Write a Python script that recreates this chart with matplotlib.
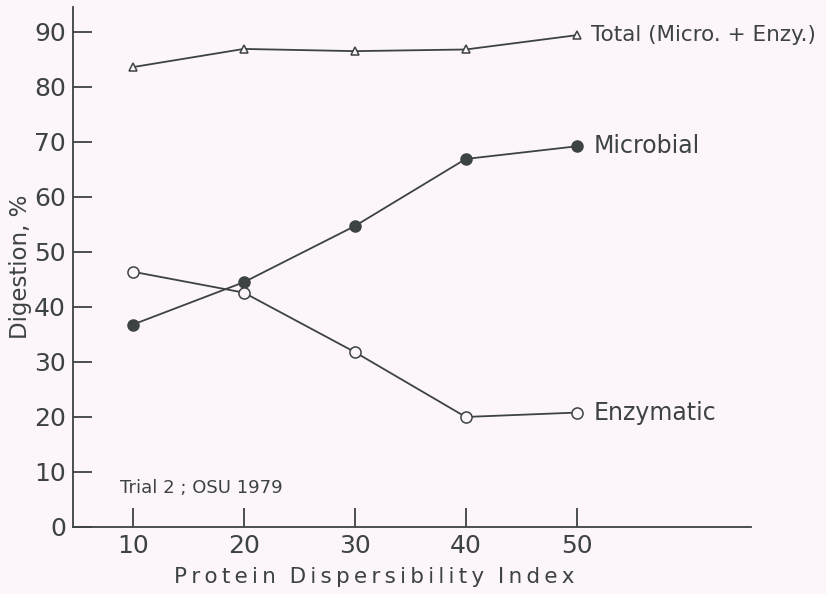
import matplotlib
matplotlib.use('Agg')
import matplotlib.pyplot as plt

# values
pdi = [10, 20, 30, 40, 50]
total = [83.6, 86.9, 86.5, 86.8, 89.4]
microbial = [36.8, 44.5, 54.7, 66.9, 69.2]
enzymatic = [46.4, 42.6, 31.8, 20.0, 20.8]

ink = '#3d4245'
bg = '#fcf5fa'

plt.rcParams['font.family'] = ['DejaVu Sans']

fig = plt.figure(figsize=(8.26, 5.94), dpi=100)
fig.patch.set_facecolor(bg)
ax = fig.add_axes([0.0884, 0.1128, 0.8206, 0.8752])
ax.set_facecolor(bg)

ax.plot(pdi, total, color=ink, lw=1.3, marker='^', ms=6, mfc=bg, mec=ink, mew=1.1)
ax.plot(pdi, microbial, color=ink, lw=1.3, marker='o', ms=8, mfc=ink, mec=ink)
ax.plot(pdi, enzymatic, color=ink, lw=1.3, marker='o', ms=8, mfc=bg, mec=ink, mew=1.1)

ax.set_xlim(4.6, 65.7)
ax.set_ylim(0, 94.5)
ax.set_xticks(pdi)
ax.set_yticks(range(0, 91, 10))
ax.tick_params(direction='in', length=14, width=1.3, colors=ink, labelsize=18, pad=5)
for s in ['top', 'right']:
    ax.spines[s].set_visible(False)
for s in ['left', 'bottom']:
    ax.spines[s].set_color(ink)
    ax.spines[s].set_linewidth(1.3)

ax.set_ylabel('Digestion, %', fontsize=16.5, color=ink)
ax.yaxis.set_label_coords(-0.078, 0.5)
ax.yaxis.label.set_va('center')
sp = '\u2009'
ax.set_xlabel(sp.join('Protein') + '  ' + sp.join('Dispersibility') + '  ' + sp.join('Index'),
              fontsize=15.5, color=ink)
ax.xaxis.set_label_coords(0.445, -0.096)
ax.xaxis.label.set_va('center')

ax.text(51.3, total[-1], 'Total (Micro. + Enzy.)', fontsize=15.5, color=ink, va='center')
ax.text(51.5, microbial[-1], 'Microbial', fontsize=17, color=ink, va='center')
ax.text(51.5, enzymatic[-1], 'Enzymatic', fontsize=17, color=ink, va='center')
ax.text(8.8, 7.0, 'Trial 2 ; OSU 1979', fontsize=13, color=ink, va='center')

fig.savefig('out.png', dpi=100, facecolor=bg)
